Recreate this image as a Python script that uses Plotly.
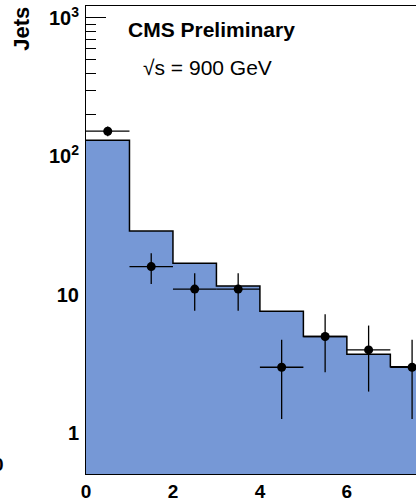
import numpy as np
import plotly.graph_objects as go

# Bin edges / centres (jet multiplicity bins of width 1)
bin_edges = [0, 1, 2, 3, 4, 5, 6, 7, 8]
bin_centers = [0.5, 1.5, 2.5, 3.5, 4.5, 5.5, 6.5, 7.5]
# Simulation (filled histogram)
mc_values = [131, 28.9, 16.9, 11.6, 7.6, 5.0, 3.73, 3.02]
# Data points
data_values = [152, 16, 11, 11, 3, 5, 4, 3]
data_errors = [float(np.sqrt(v)) for v in data_values]

x_ticks = [0, 2, 4, 6]
x_tick_labels = ["0", "2", "4", "6"]
y_ticks = [1, 10, 100, 1000]
y_tick_labels = ["1", "10", "10<sup>2</sup>", "10<sup>3</sup>"]
y_minor = [m * 10 ** d for d in range(-1, 4) for m in range(2, 10)]

FILL = "#7698D6"
FONT = "Liberation Sans"

fig = go.Figure()
fig.add_trace(go.Bar(
    x=bin_centers, y=mc_values, width=1,
    marker=dict(color=FILL, line=dict(width=0)),
    hoverinfo="skip", showlegend=False,
))
fig.add_trace(go.Scatter(
    x=bin_edges, y=mc_values + [mc_values[-1]],
    mode="lines", line=dict(shape="hv", color="black", width=1.5),
    hoverinfo="skip", showlegend=False,
))
fig.add_trace(go.Scatter(
    x=bin_centers, y=data_values, mode="markers",
    marker=dict(color="black", size=9),
    error_y=dict(type="data", array=data_errors, color="black", thickness=1.3, width=0),
    error_x=dict(type="constant", value=0.5, color="black", thickness=1.3, width=0),
    showlegend=False,
))

fig.update_layout(
    width=416, height=502,
    margin=dict(l=86, r=0, t=6, b=24),
    paper_bgcolor="white", plot_bgcolor="white",
    font=dict(family=FONT, color="black"),
    bargap=0,
    xaxis=dict(
        range=[0, 7.59], tickvals=x_ticks, ticktext=x_tick_labels,
        showline=True, linecolor="black", linewidth=1, mirror=True,
        showgrid=False, zeroline=False, ticks="",
        tickfont=dict(family=FONT, size=19, weight="bold", color="black"),
        layer="below traces",
    ),
    yaxis=dict(
        type="log", range=[np.log10(0.508), np.log10(1220)],
        tickmode="array", tickvals=y_ticks, ticktext=y_tick_labels,
        ticks="inside", ticklen=20, tickcolor="black", tickwidth=1,
        minor=dict(tickmode="array", tickvals=y_minor, ticks="inside", ticklen=10,
                   tickcolor="black", tickwidth=1, showgrid=False),
        showline=True, linecolor="black", linewidth=1,
        showgrid=False, zeroline=False,
        tickfont=dict(family=FONT, size=20, weight="bold", color="black"),
        ticklabelstandoff=2,
        layer="below traces",
    ),
    annotations=[
        dict(text="Jets", xref="paper", yref="paper", x=(22 - 86) / 330, y=(478 - 29) / 472,
             xanchor="center", yanchor="middle", textangle=-90, showarrow=False,
             font=dict(family=FONT, size=22, weight="bold", color="black")),
        dict(text="CMS Preliminary", xref="paper", yref="paper", x=(126 - 86) / 330,
             y=(478 - 30) / 472, xanchor="left", yanchor="middle", showarrow=False,
             font=dict(family=FONT, size=21, weight="bold", color="black")),
        dict(text="√s = 900 GeV", xref="paper", yref="paper", x=(141 - 86) / 330,
             y=(478 - 68) / 472, xanchor="left", yanchor="middle", showarrow=False,
             font=dict(family=FONT, size=21, color="black")),
        dict(text="0", xref="paper", yref="paper", x=(6 - 86) / 330,
             y=(478 - 468) / 472, xanchor="right", yanchor="middle", showarrow=False,
             font=dict(family=FONT, size=19, weight="bold", color="black")),
    ],
)

fig.write_html("out.html", config={"displayModeBar": False},
               post_script="document.body.style.margin='0px';")
